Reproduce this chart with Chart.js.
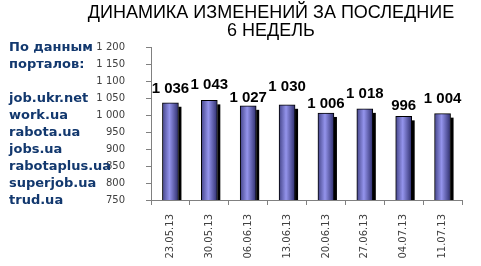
<!DOCTYPE html>
<html>
<head>
  <title>Динамика изменений</title>
  <script src="https://cdn.jsdelivr.net/npm/chart.js"></script>
  <style>
    body { margin: 0; background: #fff; }
    #wrap { width: 481px; height: 266px; position: relative; }
  </style>
</head>
<body>
  <div id="wrap"><canvas id="chart" width="481" height="266"></canvas></div>

  <script>
    // data
    const dates = ['23.05.13', '30.05.13', '06.06.13', '13.06.13', '20.06.13', '27.06.13', '04.07.13', '11.07.13'];
    const vacancies = [1036, 1043, 1027, 1030, 1006, 1018, 996, 1004];
    const titleLines = ['ДИНАМИКА ИЗМЕНЕНИЙ ЗА ПОСЛЕДНИЕ', '6 НЕДЕЛЬ'];
    const sourceLines = ['По данным', 'порталов:', '', 'job.ukr.net', 'work.ua', 'rabota.ua', 'jobs.ua', 'rabotaplus.ua', 'superjob.ua', 'trud.ua'];

    function fmt(v) {
      return String(v).replace(/\B(?=(\d{3})+(?!\d))/g, ' ');
    }

    function barGradient(ctx) {
      const chart = ctx.chart;
      if (!chart.chartArea) return '#6a6ab8';
      const x = chart.scales.x.getPixelForValue(ctx.dataIndex) - 1;
      const g = chart.ctx.createLinearGradient(x - 8, 0, x + 8, 0);
      g.addColorStop(0, '#3a3a7c');
      g.addColorStop(0.5, '#9494ec');
      g.addColorStop(1, '#3a3a7c');
      return g;
    }

    // the value labels sit staggered in the original, so they don't collide
    const labelLift = [14, 16, 8, 18, 9, 15, 11, 15];

    const extras = {
      id: 'extras',
      beforeDatasetsDraw(chart) {
        const c = chart.ctx;
        const meta = chart.getDatasetMeta(0);
        const bottom = chart.chartArea.bottom;
        c.save();
        c.fillStyle = '#000';
        meta.data.forEach(bar => {
          const w = bar.width;
          c.fillRect(bar.x + w / 2, bar.y + 4, 3, bottom - bar.y - 4);
        });
        c.restore();
      },
      afterDatasetsDraw(chart) {
        const c = chart.ctx;
        const meta = chart.getDatasetMeta(0);
        c.save();
        c.fillStyle = '#000';
        c.font = 'bold 15px "Liberation Sans", Arial, sans-serif';
        c.textAlign = 'center';
        c.textBaseline = 'middle';
        meta.data.forEach((bar, i) => {
          c.fillText(fmt(vacancies[i]), bar.x, bar.y - labelLift[i]);
        });
        c.restore();
      },
      afterDraw(chart) {
        const c = chart.ctx;
        c.save();
        // title
        c.fillStyle = '#000';
        c.font = '18px "Liberation Sans", Arial, sans-serif';
        c.textAlign = 'center';
        c.textBaseline = 'middle';
        c.fillText(titleLines[0], 271, 13);
        c.fillText(titleLines[1], 271, 31);
        // source list, one line per y tick
        const y = chart.scales.y;
        c.fillStyle = '#12386e';
        c.font = 'bold 13px "DejaVu Sans", Verdana, sans-serif';
        c.textAlign = 'left';
        y.ticks.slice().reverse().forEach((t, i) => {
          if (sourceLines[i]) c.fillText(sourceLines[i], 9, y.getPixelForValue(t.value) + 1);
        });
        c.restore();
      }
    };

    new Chart(document.getElementById('chart'), {
      type: 'bar',
      data: {
        labels: dates,
        datasets: [{
          data: vacancies,
          backgroundColor: barGradient,
          borderColor: '#000',
          borderWidth: 1,
          borderSkipped: 'bottom',
          barThickness: 16
        }]
      },
      options: {
        responsive: false,
        animation: false,
        layout: { padding: { top: 47, right: 19, left: 0, bottom: 0 } },
        plugins: {
          legend: { display: false },
          tooltip: { enabled: false },
          title: { display: false }
        },
        scales: {
          x: {
            grid: { drawOnChartArea: false, offset: true, tickLength: 5, color: '#808080' },
            border: { color: '#808080' },
            ticks: {
              minRotation: 90, maxRotation: 90, padding: 9,
              color: '#404040',
              font: { family: '"DejaVu Sans", Verdana, sans-serif', size: 10 }
            },
            afterFit(s) { s.height = 66; }
          },
          y: {
            min: 750, max: 1200,
            grid: { drawOnChartArea: false, tickLength: 5, color: '#808080' },
            border: { color: '#808080' },
            ticks: {
              stepSize: 50, padding: 21,
              color: '#404040',
              font: { family: '"DejaVu Sans", Verdana, sans-serif', size: 10 },
              callback: v => fmt(v)
            },
            afterFit(s) { s.width = 151; }
          }
        }
      },
      plugins: [extras]
    });
  </script>
</body>
</html>
